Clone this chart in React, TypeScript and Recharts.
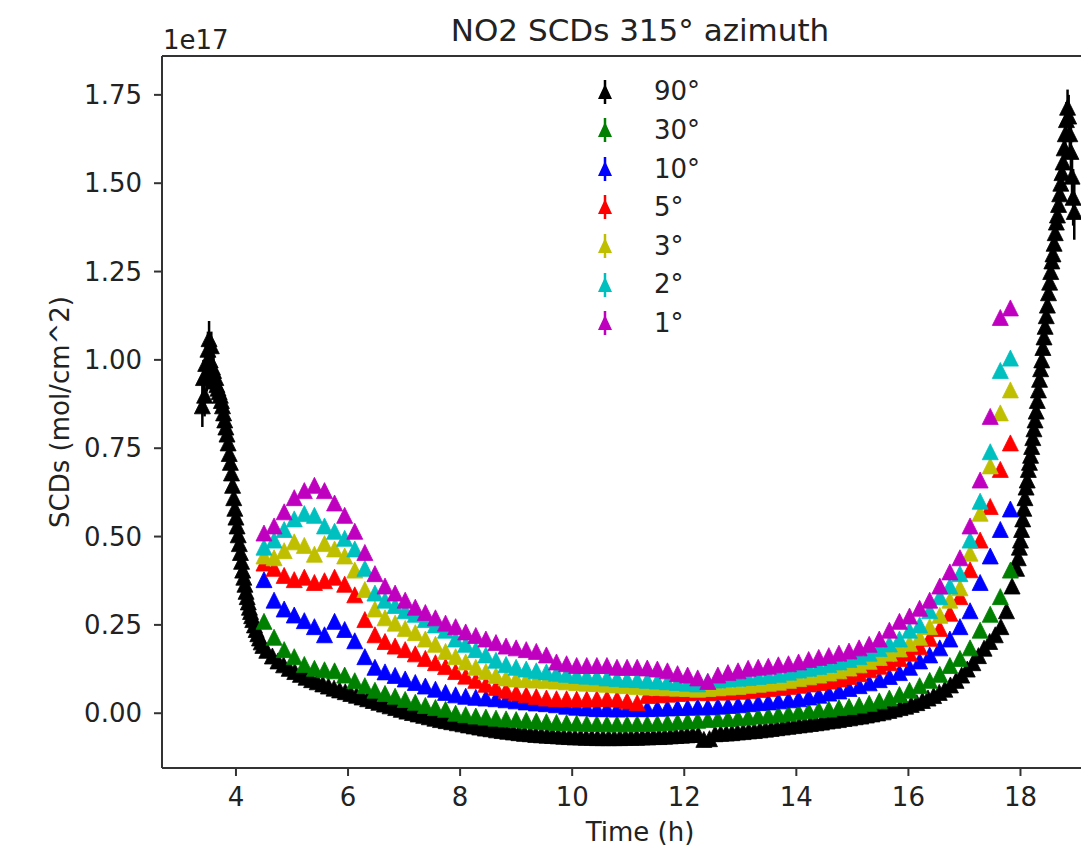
import React from 'react';
import { ScatterChart, Scatter, XAxis, YAxis, ErrorBar, ReferenceLine, Legend, Label } from 'recharts';

const FONT = '"DejaVu Sans", "Liberation Sans", sans-serif';
const TXT = '#222';
const SPINE = '#333';

// ---------- tick labels / legend ----------
const xTicks = [4, 6, 8, 10, 12, 14, 16, 18];
const yTicks = [0, 0.25, 0.5, 0.75, 1.0, 1.25, 1.5, 1.75];
const seriesNames = ['90°', '30°', '10°', '5°', '3°', '2°', '1°'];
const seriesColors = ['#000000', '#008000', '#0000ff', '#ff0000', '#bfbf00', '#00bfbf', '#bf00bf'];

// ---------- 90° (zenith) series: time (h), SCD (1e17), error ----------
const t90 = [
  3.40, 3.42, 3.44, 3.46, 3.48, 3.50, 3.52, 3.54, 3.56, 3.58,
  3.60, 3.62, 3.64, 3.66, 3.68, 3.70, 3.72, 3.74, 3.76, 3.78,
  3.80, 3.82, 3.84, 3.86, 3.88, 3.90, 3.92, 3.94, 3.96, 3.98,
  4.00, 4.02, 4.04, 4.06, 4.08, 4.10, 4.12, 4.14, 4.16, 4.18,
  4.20, 4.22, 4.24, 4.26, 4.28, 4.30, 4.33, 4.36, 4.39, 4.42,
  4.45, 4.48, 4.55, 4.65, 4.75, 4.85, 4.95, 5.05, 5.15, 5.25,
  5.35, 5.45, 5.55, 5.65, 5.75, 5.85, 5.95, 6.05, 6.15, 6.25,
  6.35, 6.45, 6.55, 6.65, 6.75, 6.85, 6.95, 7.05, 7.15, 7.25,
  7.35, 7.45, 7.55, 7.65, 7.75, 7.85, 7.95, 8.05, 8.15, 8.25,
  8.35, 8.45, 8.55, 8.65, 8.75, 8.85, 8.95, 9.05, 9.15, 9.25,
  9.35, 9.45, 9.55, 9.65, 9.75, 9.85, 9.95, 10.05, 10.15, 10.25,
  10.35, 10.45, 10.55, 10.65, 10.75, 10.85, 10.95, 11.05, 11.15, 11.25,
  11.35, 11.45, 11.55, 11.65, 11.75, 11.85, 11.95, 12.05, 12.15, 12.25,
  12.35, 12.45, 12.55, 12.65, 12.75, 12.85, 12.95, 13.05, 13.15, 13.25,
  13.35, 13.45, 13.55, 13.65, 13.75, 13.85, 13.95, 14.05, 14.15, 14.25,
  14.35, 14.45, 14.55, 14.65, 14.75, 14.85, 14.95, 15.05, 15.15, 15.25,
  15.35, 15.45, 15.55, 15.65, 15.75, 15.85, 15.95, 16.05, 16.15, 16.25,
  16.35, 16.45, 16.55, 16.65, 16.75, 16.85, 16.95, 17.05, 17.15, 17.25,
  17.35, 17.45, 17.55, 17.65, 17.75, 17.85, 17.93, 17.96, 17.98, 18.00,
  18.02, 18.04, 18.06, 18.08, 18.10, 18.12, 18.14, 18.16, 18.18, 18.20,
  18.22, 18.24, 18.26, 18.28, 18.30, 18.32, 18.34, 18.36, 18.38, 18.40,
  18.42, 18.44, 18.46, 18.48, 18.50, 18.52, 18.54, 18.56, 18.58, 18.60,
  18.62, 18.64, 18.66, 18.68, 18.70, 18.72, 18.74, 18.76, 18.78, 18.80,
  18.82, 18.84, 18.86, 18.88, 18.90, 18.92, 18.94, 18.96,
];
const v90 = [
  0.87, 0.95, 0.90, 0.99, 0.96, 1.03, 1.06, 1.00, 1.04, 0.98,
  0.97, 0.94, 0.95, 0.93, 0.92, 0.91, 0.90, 0.885, 0.87, 0.85,
  0.83, 0.81, 0.79, 0.765, 0.735, 0.71, 0.68, 0.645, 0.61, 0.58,
  0.555, 0.53, 0.505, 0.48, 0.455, 0.43, 0.405, 0.385, 0.365, 0.345,
  0.33, 0.315, 0.30, 0.288, 0.276, 0.265, 0.25, 0.237, 0.225, 0.213,
  0.202, 0.192, 0.178, 0.162, 0.148, 0.137, 0.127, 0.118, 0.11, 0.102,
  0.095, 0.089, 0.083, 0.077, 0.071, 0.066, 0.061, 0.056, 0.051, 0.046,
  0.041, 0.036, 0.031, 0.026, 0.021, 0.016, 0.011, 0.006, 0.002, -0.002,
  -0.006, -0.01, -0.014, -0.018, -0.021, -0.024, -0.027, -0.03, -0.033, -0.036,
  -0.039, -0.042, -0.044, -0.047, -0.049, -0.051, -0.053, -0.055, -0.057, -0.058,
  -0.06, -0.061, -0.062, -0.063, -0.064, -0.065, -0.066, -0.067, -0.067, -0.068,
  -0.068, -0.069, -0.069, -0.069, -0.069, -0.069, -0.068, -0.068, -0.068, -0.067,
  -0.067, -0.066, -0.066, -0.065, -0.064, -0.063, -0.062, -0.061, -0.06, -0.06,
  -0.074, -0.072, -0.058, -0.057, -0.056, -0.055, -0.053, -0.052, -0.05, -0.049,
  -0.047, -0.045, -0.043, -0.041, -0.039, -0.037, -0.035, -0.033, -0.031, -0.029,
  -0.027, -0.025, -0.022, -0.02, -0.018, -0.015, -0.013, -0.01, -0.008, -0.005,
  -0.002, 0.001, 0.004, 0.008, 0.012, 0.016, 0.02, 0.025, 0.03, 0.036,
  0.043, 0.05, 0.059, 0.068, 0.08, 0.093, 0.108, 0.125, 0.143, 0.163,
  0.184, 0.203, 0.222, 0.245, 0.29, 0.36, 0.41, 0.44, 0.47, 0.49,
  0.52, 0.55, 0.58, 0.61, 0.64, 0.66, 0.69, 0.71, 0.73, 0.755,
  0.78, 0.805, 0.83, 0.855, 0.885, 0.915, 0.945, 0.975, 1.0, 1.035,
  1.065, 1.095, 1.125, 1.155, 1.19, 1.22, 1.25, 1.28, 1.3, 1.33,
  1.36, 1.39, 1.41, 1.44, 1.47, 1.5, 1.53, 1.56, 1.6, 1.64,
  1.68, 1.715, 1.69, 1.64, 1.59, 1.52, 1.46, 1.42,
];
const e90 = [
  0.06, 0.05, 0.06, 0.05, 0.05, 0.05, 0.05, 0.05, 0.04, 0.04,
  0.04, 0.04, 0.03, 0.03, 0.03, 0.03, 0.03, 0.025, 0.025, 0.025,
  0.02, 0.02, 0.02, 0.02, 0.02, 0.02, 0.02, 0.02, 0.02, 0.02,
  0.02, 0.02, 0.015, 0.015, 0.015, 0.015, 0.015, 0.015, 0.015, 0.015,
  0.012, 0.012, 0.012, 0.012, 0.012, 0.012, 0.012, 0.012, 0.012, 0.012,
  0.008, 0.008, 0.008, 0.008, 0.008, 0.008, 0.008, 0.008, 0.008, 0.008,
  0.008, 0.008, 0.008, 0.008, 0.008, 0.008, 0.008, 0.008, 0.008, 0.008,
  0.008, 0.008, 0.008, 0.008, 0.008, 0.008, 0.008, 0.008, 0.008, 0.008,
  0.008, 0.008, 0.008, 0.008, 0.008, 0.008, 0.008, 0.008, 0.008, 0.008,
  0.008, 0.008, 0.008, 0.008, 0.008, 0.008, 0.008, 0.008, 0.008, 0.008,
  0.008, 0.008, 0.008, 0.008, 0.008, 0.008, 0.008, 0.008, 0.008, 0.008,
  0.008, 0.008, 0.008, 0.008, 0.008, 0.008, 0.008, 0.008, 0.008, 0.008,
  0.008, 0.008, 0.008, 0.008, 0.008, 0.008, 0.008, 0.008, 0.008, 0.008,
  0.008, 0.008, 0.008, 0.008, 0.008, 0.008, 0.008, 0.008, 0.008, 0.008,
  0.008, 0.008, 0.008, 0.008, 0.008, 0.008, 0.008, 0.008, 0.008, 0.008,
  0.008, 0.008, 0.008, 0.008, 0.008, 0.008, 0.008, 0.008, 0.008, 0.008,
  0.008, 0.008, 0.008, 0.008, 0.008, 0.008, 0.008, 0.008, 0.008, 0.008,
  0.008, 0.008, 0.008, 0.008, 0.008, 0.008, 0.008, 0.008, 0.008, 0.008,
  0.008, 0.008, 0.008, 0.008, 0.008, 0.008, 0.01, 0.01, 0.012, 0.012,
  0.015, 0.015, 0.015, 0.015, 0.015, 0.015, 0.015, 0.015, 0.015, 0.015,
  0.02, 0.02, 0.02, 0.02, 0.02, 0.02, 0.02, 0.02, 0.02, 0.02,
  0.025, 0.025, 0.025, 0.025, 0.025, 0.025, 0.025, 0.025, 0.025, 0.025,
  0.03, 0.03, 0.03, 0.035, 0.035, 0.04, 0.04, 0.04, 0.045, 0.045,
  0.05, 0.05, 0.06, 0.06, 0.07, 0.07, 0.08, 0.08,
];

// ---------- off-axis elevations: shared time grid (h) ----------
const tElev = [
  4.50, 4.68, 4.86, 5.04, 5.22, 5.40, 5.58, 5.76, 5.94, 6.12,
  6.30, 6.48, 6.66, 6.84, 7.02, 7.20, 7.38, 7.56, 7.74, 7.92,
  8.10, 8.28, 8.46, 8.64, 8.82, 9.00, 9.18, 9.36, 9.54, 9.72,
  9.90, 10.08, 10.26, 10.44, 10.62, 10.80, 10.98, 11.16, 11.34, 11.52,
  11.70, 11.88, 12.06, 12.24, 12.42, 12.60, 12.78, 12.96, 13.14, 13.32,
  13.50, 13.68, 13.86, 14.04, 14.22, 14.40, 14.58, 14.76, 14.94, 15.12,
  15.30, 15.48, 15.66, 15.84, 16.02, 16.20, 16.38, 16.56, 16.74, 16.92,
  17.10, 17.28, 17.46, 17.64, 17.82,
];
const v30 = [
  0.26, 0.215, 0.18, 0.16, 0.138, 0.127, 0.123, 0.12, 0.108, 0.092,
  0.078, 0.065, 0.056, 0.048, 0.039, 0.031, 0.022, 0.016, 0.011, 0.0,
  -0.004, -0.008, -0.011, -0.014, -0.016, -0.018, -0.02, -0.022, -0.024, -0.026,
  -0.027, -0.028, -0.029, -0.029, -0.03, -0.03, -0.03, -0.029, -0.029, -0.028,
  -0.026, -0.024, -0.022, -0.02, -0.018, -0.016, -0.015, -0.013, -0.011, -0.008,
  -0.006, -0.003, 0.0, 0.004, 0.007, 0.01, 0.012, 0.016, 0.019, 0.023,
  0.028, 0.035, 0.043, 0.053, 0.065, 0.078, 0.093, 0.11, 0.135, 0.155,
  0.185, 0.235, 0.28, 0.33, 0.405,
];
const v10 = [
  0.378, 0.32, 0.295, 0.278, 0.262, 0.245, 0.222, 0.26, 0.237, 0.205,
  0.16, 0.13, 0.117, 0.107, 0.097, 0.087, 0.077, 0.068, 0.059, 0.052,
  0.048, 0.045, 0.043, 0.041, 0.038, 0.035, 0.032, 0.029, 0.027, 0.024,
  0.02, 0.017, 0.015, 0.013, 0.013, 0.012, 0.013, 0.013, 0.013, 0.014,
  0.015, 0.016, 0.017, 0.018, 0.018, 0.02, 0.022, 0.024, 0.027, 0.03,
  0.032, 0.035, 0.038, 0.041, 0.046, 0.051, 0.057, 0.063, 0.07, 0.078,
  0.086, 0.095, 0.104, 0.115, 0.13, 0.148, 0.165, 0.185, 0.21, 0.245,
  0.29, 0.37, 0.445, 0.52, 0.578,
];
const v5 = [
  0.425, 0.41, 0.39, 0.378, 0.385, 0.37, 0.375, 0.385, 0.365, 0.335,
  0.265, 0.222, 0.203, 0.19, 0.18, 0.168, 0.155, 0.143, 0.132, 0.118,
  0.105, 0.093, 0.082, 0.073, 0.065, 0.058, 0.052, 0.047, 0.043, 0.041,
  0.041, 0.04, 0.04, 0.041, 0.042, 0.04, 0.035, 0.03, 0.05, 0.052,
  0.054, 0.056, 0.058, 0.06, 0.058, 0.06, 0.06, 0.062, 0.064, 0.067,
  0.07, 0.073, 0.076, 0.079, 0.083, 0.087, 0.091, 0.097, 0.104, 0.112,
  0.123, 0.133, 0.143, 0.155, 0.17, 0.188, 0.212, 0.24, 0.283, 0.33,
  0.406, 0.49, 0.585, 0.69, 0.765,
];
const v3 = [
  0.445, 0.44, 0.46, 0.485, 0.475, 0.45, 0.48, 0.465, 0.445, 0.405,
  0.35, 0.295, 0.27, 0.255, 0.24, 0.228, 0.21, 0.195, 0.175, 0.16,
  0.145, 0.13, 0.118, 0.107, 0.10, 0.097, 0.095, 0.094, 0.093, 0.091,
  0.089, 0.087, 0.085, 0.084, 0.082, 0.08, 0.078, 0.076, 0.074, 0.073,
  0.072, 0.071, 0.07, 0.068, 0.07, 0.072, 0.074, 0.076, 0.079, 0.082,
  0.085, 0.088, 0.093, 0.098, 0.103, 0.108, 0.114, 0.12, 0.128, 0.137,
  0.147, 0.158, 0.17, 0.182, 0.198, 0.215, 0.245, 0.277, 0.32, 0.355,
  0.453, 0.566, 0.70, 0.85, 0.915,
];
const v2 = [
  0.47, 0.49, 0.52, 0.55, 0.565, 0.56, 0.53, 0.515, 0.495, 0.465,
  0.41, 0.34, 0.32, 0.305, 0.29, 0.28, 0.265, 0.25, 0.235, 0.21,
  0.195, 0.18, 0.165, 0.15, 0.138, 0.13, 0.125, 0.12, 0.117, 0.113,
  0.11, 0.107, 0.105, 0.103, 0.10, 0.098, 0.096, 0.095, 0.093, 0.091,
  0.089, 0.087, 0.085, 0.083, 0.09, 0.094, 0.097, 0.099, 0.101, 0.104,
  0.107, 0.11, 0.116, 0.122, 0.127, 0.132, 0.138, 0.145, 0.152, 0.16,
  0.17, 0.183, 0.196, 0.21, 0.235, 0.25, 0.29, 0.33, 0.36, 0.395,
  0.49, 0.60, 0.74, 0.97, 1.005,
];
const v1 = [
  0.51, 0.53, 0.57, 0.61, 0.63, 0.645, 0.63, 0.595, 0.56, 0.515,
  0.455, 0.395, 0.36, 0.34, 0.32, 0.30, 0.285, 0.27, 0.255, 0.245,
  0.23, 0.22, 0.21, 0.20, 0.19, 0.185, 0.18, 0.175, 0.165, 0.145,
  0.14, 0.135, 0.135, 0.135, 0.135, 0.13, 0.13, 0.13, 0.128, 0.125,
  0.12, 0.112, 0.108, 0.10, 0.09, 0.108, 0.115, 0.12, 0.127, 0.13,
  0.133, 0.137, 0.14, 0.145, 0.152, 0.158, 0.163, 0.17, 0.176, 0.185,
  0.195, 0.21, 0.235, 0.26, 0.275, 0.297, 0.32, 0.36, 0.40, 0.44,
  0.53, 0.66, 0.84, 1.12, 1.147,
];

const data90 = t90.map((t, i) => ({ t, v: v90[i], err: e90[i] }));
const elev = (vals: number[]) => tElev.map((t, i) => ({ t, v: vals[i] }));
const elevSeries = [v30, v10, v5, v3, v2, v1].map(elev);

const triangle = (color: string) => (props: any) => {
  const { cx, cy } = props;
  if (cx == null || cy == null || isNaN(cx) || isNaN(cy)) return <g />;
  const h = 8;
  return (
    <polygon
      points={`${cx},${cy - h} ${cx - h},${cy + h} ${cx + h},${cy + h}`}
      fill={color}
      stroke={color}
      strokeWidth={0.8}
    />
  );
};

const LegendBox = () => (
  <div style={{ fontFamily: FONT, fontSize: 26, color: TXT }}>
    {seriesNames.map((n, i) => (
      <div key={n} style={{ display: 'flex', alignItems: 'center', height: 38.6 }}>
        <svg width={20} height={28} style={{ marginLeft: 10, flex: 'none' }}>
          <line x1={10} y1={2} x2={10} y2={26} stroke={seriesColors[i]} strokeWidth={2.5} />
          <polygon points="10,6 3,21 17,21" fill={seriesColors[i]} />
        </svg>
        <span style={{ marginLeft: 39, lineHeight: '38.6px' }}>{n}</span>
      </div>
    ))}
  </div>
);

const textStyle = { fontFamily: FONT, fill: TXT };

export default function App() {
  return (
    <div style={{ position: 'absolute', left: 0, top: 0, width: 1081, height: 848, overflow: 'hidden', background: '#fff' }}>
      <ScatterChart width={1081} height={848} margin={{ top: 56, right: 0, bottom: 0, left: 0 }}>
        <XAxis
          type="number"
          dataKey="t"
          domain={[2.68, 19.08]}
          ticks={xTicks}
          interval={0}
          allowDataOverflow
          height={80}
          tickSize={8}
          tickMargin={12}
          axisLine={{ stroke: SPINE, strokeWidth: 2 }}
          tickLine={{ stroke: SPINE, strokeWidth: 2 }}
          tick={{ fontSize: 26, fontFamily: FONT, fill: TXT }}
        >
          <Label
            content={() => (
              <text x={640} y={841} textAnchor="middle" fontSize={26} {...textStyle}>
                Time (h)
              </text>
            )}
          />
        </XAxis>
        <YAxis
          type="number"
          dataKey="v"
          domain={[-0.155, 1.86]}
          ticks={yTicks}
          interval={0}
          allowDataOverflow
          width={162}
          tickSize={8}
          tickMargin={12}
          tickFormatter={(v: number) => v.toFixed(2)}
          axisLine={{ stroke: SPINE, strokeWidth: 2 }}
          tickLine={{ stroke: SPINE, strokeWidth: 2 }}
          tick={{ fontSize: 26, fontFamily: FONT, fill: TXT }}
        >
          <Label
            content={() => (
              <g>
                <text x={69} y={412} textAnchor="middle" fontSize={26} transform="rotate(-90, 69, 412)" {...textStyle}>
                  SCDs (mol/cm^2)
                </text>
                <text x={163} y={49} textAnchor="start" fontSize={26} {...textStyle}>
                  1e17
                </text>
                <text x={640} y={41} textAnchor="middle" fontSize={31} {...textStyle}>
                  NO2 SCDs 315° azimuth
                </text>
              </g>
            )}
          />
        </YAxis>
        <ReferenceLine y={1.86} stroke={SPINE} strokeWidth={2} ifOverflow="visible" />
        <Scatter name={seriesNames[0]} data={data90} fill={seriesColors[0]} shape={triangle(seriesColors[0])} isAnimationActive={false}>
          <ErrorBar dataKey="err" direction="y" width={0} stroke={seriesColors[0]} strokeWidth={2.5} />
        </Scatter>
        {elevSeries.map((d, i) => (
          <Scatter
            key={seriesNames[i + 1]}
            name={seriesNames[i + 1]}
            data={d}
            fill={seriesColors[i + 1]}
            shape={triangle(seriesColors[i + 1])}
            isAnimationActive={false}
          />
        ))}
        <Legend
          layout="vertical"
          align="center"
          verticalAlign="middle"
          wrapperStyle={{ top: 72.4, left: 585, width: 170 }}
          content={() => <LegendBox />}
        />
      </ScatterChart>
    </div>
  );
}
